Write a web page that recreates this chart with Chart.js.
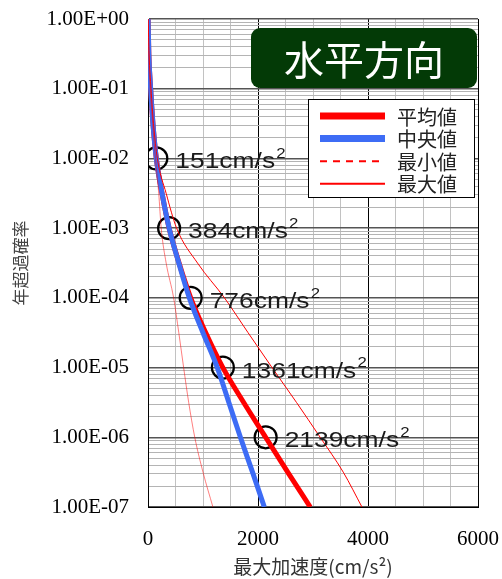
<!DOCTYPE html>
<html>
<head>
<meta charset="utf-8">
<script src="https://cdn.jsdelivr.net/npm/chart.js@4.4.0/dist/chart.umd.min.js"></script>
<style>
  html, body { margin: 0; padding: 0; background: #fff; }
</style>
</head>
<body>
<canvas id="c" width="502" height="579"></canvas>
<script>
// exceedance probability levels (shared by every curve)
const probLevels = [1, 3.16e-1, 1e-1, 3.16e-2, 1e-2, 3.16e-3, 1e-3, 3.16e-4,
                    1e-4, 3.16e-5, 1e-5, 3.16e-6, 1e-6, 3.16e-7, 1e-7];
// peak acceleration (cm/s2)
const meanAcc   = [2, 15, 48, 90, 151, 255, 384, 565, 776, 1050, 1361, 1740, 2139, 2540, 2950];
const medianAcc = [2, 15, 48, 90, 151, 255, 384, 560, 752, 1000, 1260, 1470, 1680, 1900, 2115];
const minAcc    = [2, 12, 40, 85, 135, 195, 240, 330, 466, 560, 648, 740, 850, 1000, 1180];
const maxAcc    = [3, 20, 55, 100, 170, 330, 520, 900, 1390, 1820, 2255, 2700, 3130, 3550, 3890];
// circled values
const markerAcc  = [151, 384, 776, 1361, 2139];
const markerProb = [1e-2, 1e-3, 1e-4, 1e-5, 1e-6];

const seriesNames = ['平均値', '中央値', '最小値', '最大値'];
const titleText = '水平方向';

const pts = (xs) => xs.map((x, i) => ({x: x, y: probLevels[i]}));

function isDecade(v) {
  const l = Math.log10(v);
  return Math.abs(l - Math.round(l)) < 1e-9;
}
function sciLabel(v) {
  const e = Math.round(Math.log10(v));
  return '1.00E' + (e < 0 ? '-' : '+') + String(Math.abs(e)).padStart(2, '0');
}

const yTicks = [1];
for (let e = -1; e >= -7; e--) {
  for (let m = 9; m >= 1; m--) yTicks.push(m * Math.pow(10, e));
}

// labels next to the circles, title box and legend
const overlay = {
  id: 'overlay',
  afterDatasetsDraw(chart) {
    const ctx = chart.ctx, xs = chart.scales.x, ys = chart.scales.y;
    ctx.save();
    ctx.fillStyle = '#1a1a1a';
    ctx.textBaseline = 'middle';
    ctx.textAlign = 'left';
    markerAcc.forEach((a, i) => {
      const px = xs.getPixelForValue(a) + 19;
      const py = ys.getPixelForValue(markerProb[i]) + 4;
      const s = a + 'cm/s';
      ctx.save();
      ctx.translate(px, py);
      ctx.scale(1.2, 1);  // the original text is drawn wide
      ctx.font = '22px "Liberation Sans"';
      ctx.fillText(s, 0, 0);
      const w = ctx.measureText(s).width;
      ctx.font = '14px "Liberation Sans"';
      ctx.fillText('2', w + 1, -8);
      ctx.restore();
    });
    ctx.restore();
  },
  afterDraw(chart) {
    const ctx = chart.ctx;
    ctx.save();
    // title box
    ctx.fillStyle = '#033a06';
    ctx.beginPath();
    ctx.roundRect(251, 28, 226, 60, 9);
    ctx.fill();
    ctx.fillStyle = '#fff';
    ctx.font = '40px "Noto Sans CJK JP"';
    ctx.textAlign = 'center';
    ctx.textBaseline = 'middle';
    ctx.fillText(titleText, 364, 60);

    // legend
    ctx.fillStyle = '#fff';
    ctx.fillRect(308, 99, 167, 99);
    ctx.strokeStyle = '#000';
    ctx.lineWidth = 1;
    ctx.strokeRect(308.5, 99.5, 166, 98);
    const styles = [
      {c: '#ff0000', w: 7, d: []},
      {c: '#3d6cf5', w: 7, d: []},
      {c: '#ff0000', w: 2, d: [7, 6]},
      {c: '#ff0000', w: 2, d: []}
    ];
    ctx.font = '20px "Noto Sans CJK JP"';
    ctx.textAlign = 'left';
    seriesNames.forEach((n, i) => {
      const y = 116 + i * 22.6;
      ctx.strokeStyle = styles[i].c;
      ctx.lineWidth = styles[i].w;
      ctx.setLineDash(styles[i].d);
      ctx.beginPath();
      ctx.moveTo(320, y);
      ctx.lineTo(385, y);
      ctx.stroke();
      ctx.setLineDash([]);
      ctx.fillStyle = '#222';
      ctx.fillText(n, 397, y + 1);
    });
    ctx.restore();
  }
};

const line = (label, data, color, width) => ({
  label: label,
  data: data,
  showLine: true,
  borderColor: color,
  borderWidth: width,
  pointRadius: 0,
  cubicInterpolationMode: 'monotone',
  fill: false
});

new Chart(document.getElementById('c'), {
  type: 'scatter',
  data: {
    datasets: [
      line(seriesNames[2], pts(minAcc), 'rgba(255,0,0,0.5)', 1),
      line(seriesNames[3], pts(maxAcc), '#ff0000', 1),
      line(seriesNames[1], pts(medianAcc), '#3d6cf5', 5),
      line(seriesNames[0], pts(meanAcc), '#ff0000', 5),
      {
        label: 'marker',
        data: markerAcc.map((a, i) => ({x: a, y: markerProb[i]})),
        pointRadius: 11,
        pointBorderWidth: 2.2,
        pointBorderColor: '#000',
        pointBackgroundColor: 'rgba(0,0,0,0)',
        showLine: false
      }
    ]
  },
  options: {
    responsive: false,
    animation: false,
    layout: { padding: { left: 0, right: 24, top: 19, bottom: 0 } },
    plugins: {
      legend: { display: false },
      tooltip: { enabled: false }
    },
    scales: {
      x: {
        type: 'linear',
        min: 0, max: 6000,
        afterFit: (s) => { s.height = 72; s.paddingLeft = 0; s.paddingRight = 0; },
        ticks: {
          stepSize: 500,
          autoSkip: false,
          maxRotation: 0,
          padding: 20,
          color: '#000',
          font: { family: '"Liberation Serif"', size: 21 },
          callback: (v) => (v % 2000 === 0 ? String(v) : '')
        },
        grid: {
          drawTicks: false,
          color: (c) => (c.tick && c.tick.value % 2000 === 0 ? '#000' : '#c2c2c2'),
          lineWidth: 1
        },
        border: { color: '#000', width: 1 },
        title: {
          display: true,
          text: '最大加速度(cm/s²)',
          color: '#333',
          font: { family: '"Noto Sans CJK JP"', size: 19 },
          padding: { top: 0, bottom: 1 }
        }
      },
      y: {
        type: 'logarithmic',
        min: 1e-7, max: 1,
        afterFit: (s) => { s.width = 148; s.paddingTop = 0; s.paddingBottom = 0; },
        afterBuildTicks: (s) => { s.ticks = yTicks.map((v) => ({value: v})); },
        ticks: {
          autoSkip: false,
          padding: 19,
          color: '#000',
          font: { family: '"Liberation Serif"', size: 21 },
          callback: (v) => (isDecade(v) ? sciLabel(v) : '')
        },
        grid: {
          drawTicks: false,
          color: (c) => (c.tick && isDecade(c.tick.value) ? '#555' : '#b4b4b4'),
          lineWidth: (c) => (c.tick && isDecade(c.tick.value) ? 1.5 : 1)
        },
        border: { color: '#000', width: 1 },
        title: {
          display: true,
          text: '年超過確率',
          color: '#444',
          font: { family: '"Noto Sans CJK JP"', size: 17 },
          padding: { top: 10, bottom: 0 }
        }
      }
    }
  },
  plugins: [overlay]
});
</script>
</body>
</html>
